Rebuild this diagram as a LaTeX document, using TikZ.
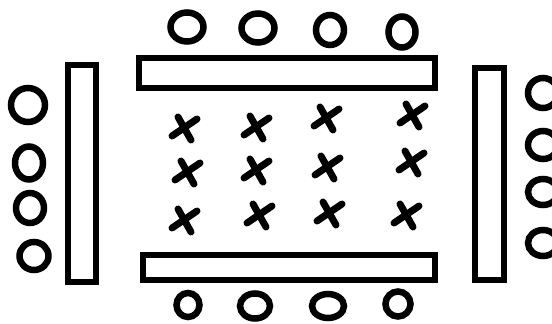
\documentclass[tikz,border=0pt]{standalone}
\usetikzlibrary{shapes.geometric}
\begin{document}
\begin{tikzpicture}[x=1pt,y=-1pt,
  ring/.style={draw=black,line width=6.5pt,ellipse,inner sep=0pt},
  bar/.style={draw=black,line width=6pt,fill=white},
  xstroke/.style={draw=black,line width=7pt,line cap=round}]
\useasboundingbox[fill=white] (0,0) rectangle (552,324);
% bars
\draw[bar] (139,58) rectangle (435,88);
\draw[bar] (143,255) rectangle (435,280);
\draw[bar] (68,65) rectangle (96,282);
\draw[bar] (475,68) rectangle (504,280);
% top circles
\node[ring,minimum width=33pt,minimum height=29pt] (t1) at (187,27) {};
\node[ring,minimum width=33pt,minimum height=29pt] (t2) at (258,28) {};
\node[ring,minimum width=28pt,minimum height=30pt] (t3) at (330,30) {};
\node[ring,minimum width=27pt,minimum height=31pt] (t4) at (402,32) {};
% bottom circles
\node[ring,minimum width=23pt,minimum height=24pt] (b1) at (188,305) {};
\node[ring,minimum width=30pt,minimum height=25pt] (b2) at (255,306) {};
\node[ring,minimum width=32pt,minimum height=24pt] (b3) at (328,306) {};
\node[ring,minimum width=25pt,minimum height=25pt] (b4) at (398,304) {};
% left circles
\node[ring,minimum width=34pt,minimum height=34pt] (l1) at (28,105) {};
\node[ring,minimum width=28pt,minimum height=33pt] (l2) at (29,163) {};
\node[ring,minimum width=28pt,minimum height=30pt] (l3) at (30,208) {};
\node[ring,minimum width=29pt,minimum height=28pt] (l4) at (34,256) {};
% right circles
\node[ring,minimum width=30pt,minimum height=30pt] (r1) at (543,93) {};
\node[ring,minimum width=30pt,minimum height=28pt] (r2) at (543,145) {};
\node[ring,minimum width=30pt,minimum height=26pt] (r3) at (543,192) {};
\node[ring,minimum width=30pt,minimum height=26pt] (r4) at (543,243) {};
% crosses
\foreach \cx/\cy in {185/128,257/127,327/118,413/115,
                     188/172,257/170,328/167,412/162,
                     185/220,260/215,330/213,407/215}{
  \draw[xstroke] (\cx-13,\cy+8) -- (\cx+12,\cy-9);
  \draw[xstroke] (\cx-7,\cy-11) -- (\cx+6,\cy+12);
}
\end{tikzpicture}
\end{document}
